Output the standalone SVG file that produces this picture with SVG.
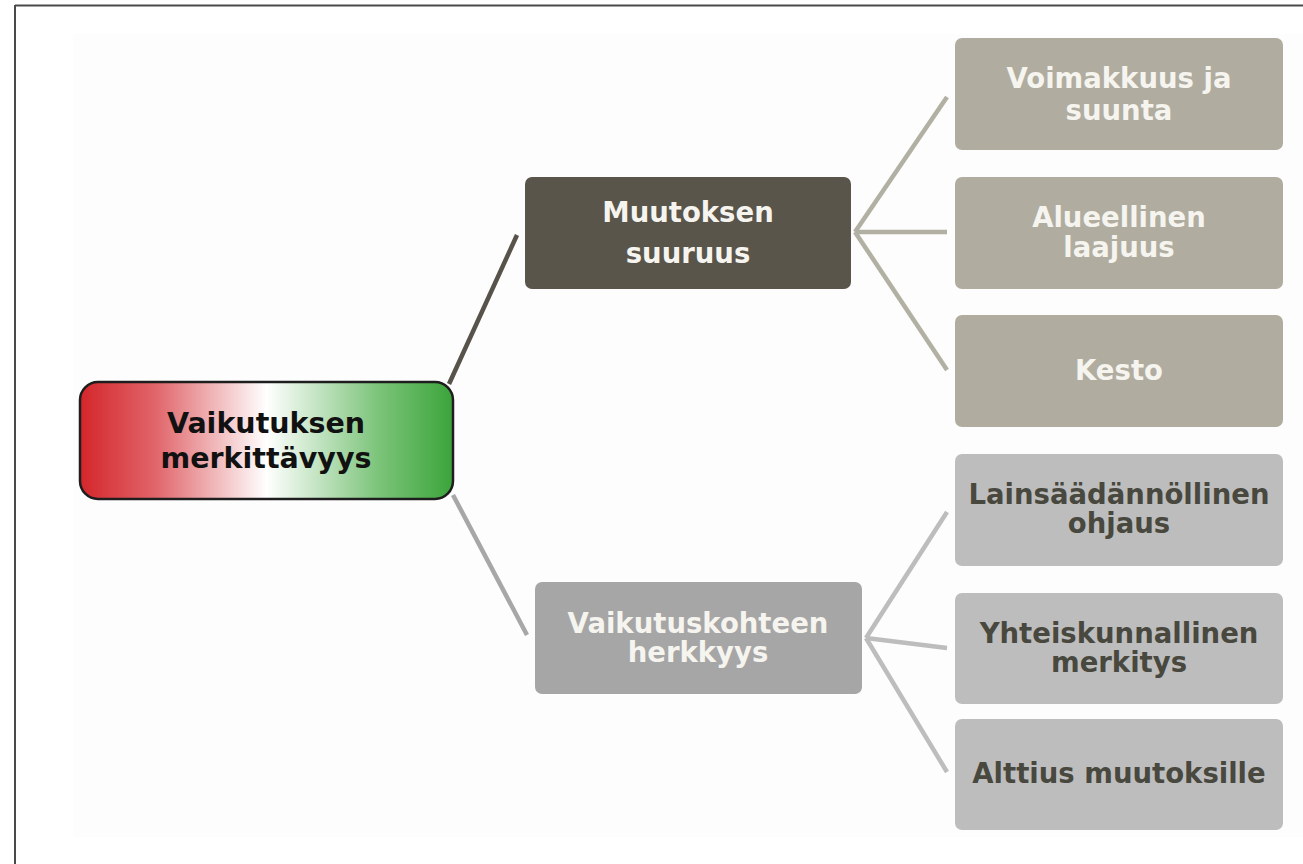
<svg xmlns="http://www.w3.org/2000/svg" width="1303" height="864" viewBox="0 0 1303 864">
<defs>
<linearGradient id="rootGrad" x1="0" y1="0" x2="1" y2="0">
<stop offset="0" stop-color="#d4262b"/>
<stop offset="0.2" stop-color="#e06469"/>
<stop offset="0.5" stop-color="#ffffff"/>
<stop offset="0.8" stop-color="#7cc47a"/>
<stop offset="1" stop-color="#3ba43a"/>
</linearGradient>
<style>
text{font-family:"DejaVu Sans","Verdana",sans-serif;font-weight:bold;text-anchor:middle;font-size:27.5px}
.conn{fill:none;stroke-width:4.5;stroke-linecap:butt}
.c1{stroke:#57534a}
.c2{stroke:#a7a7a7}
.c3{stroke:#b2afa3}
.c4{stroke:#bdbdbd}
.mid{fill:#59554b}
.leafA{fill:#b0ada0}
.leafB{fill:#bdbdbd}
.mid2{fill:#a6a6a6}
.wt{fill:#f6f4ef}
.dt{fill:#48483f}
</style>
</defs>
<rect x="0" y="0" width="1303" height="864" fill="#ffffff"/>
<rect x="73" y="34" width="1230" height="803" fill="#fdfdfd"/>
<g id="frame" fill="none" stroke="#4a4a4a" stroke-width="2">
<line x1="15" y1="5.5" x2="1303" y2="5.5"/>
<line x1="15" y1="5" x2="15" y2="864"/>
</g>
<g id="connectors">
<line class="conn c1" x1="449" y1="384" x2="517" y2="235"/>
<line class="conn c2" x1="453" y1="495" x2="527" y2="635"/>
<line class="conn c3" x1="855" y1="232" x2="947" y2="97"/>
<line class="conn c3" x1="855" y1="232" x2="947" y2="232"/>
<line class="conn c3" x1="855" y1="232" x2="947" y2="370"/>
<line class="conn c4" x1="866" y1="638" x2="947" y2="512"/>
<line class="conn c4" x1="866" y1="638" x2="947" y2="648"/>
<line class="conn c4" x1="866" y1="638" x2="947" y2="772"/>
</g>
<g id="root">
<rect x="80" y="382" width="373" height="117" rx="18" fill="url(#rootGrad)" stroke="#1e1e1e" stroke-width="2.5"/>
<text x="266" y="433" fill="#111111" style="font-size:28.5px">Vaikutuksen</text>
<text x="266" y="468" fill="#111111" style="font-size:28.5px">merkittävyys</text>
</g>
<g id="muutoksen">
<rect x="525" y="177" width="326" height="112" rx="7" class="mid"/>
<text x="688" y="222" class="wt">Muutoksen</text>
<text x="688" y="263" class="wt">suuruus</text>
</g>
<g id="voimakkuus">
<rect x="955" y="38" width="328" height="112" rx="7" class="leafA"/>
<text x="1119" y="88" class="wt">Voimakkuus ja</text>
<text x="1119" y="120" class="wt">suunta</text>
</g>
<g id="alueellinen">
<rect x="955" y="177" width="328" height="112" rx="7" class="leafA"/>
<text x="1119" y="227" class="wt">Alueellinen</text>
<text x="1119" y="257" class="wt">laajuus</text>
</g>
<g id="kesto">
<rect x="955" y="315" width="328" height="112" rx="7" class="leafA"/>
<text x="1119" y="380" class="wt">Kesto</text>
</g>
<g id="vaikutuskohteen">
<rect x="535" y="582" width="327" height="112" rx="7" class="mid2"/>
<text x="698" y="633" class="wt">Vaikutuskohteen</text>
<text x="698" y="662" class="wt">herkkyys</text>
</g>
<g id="lainsaadannollinen">
<rect x="955" y="454" width="328" height="112" rx="7" class="leafB"/>
<text x="1119" y="504" class="dt">Lainsäädännöllinen</text>
<text x="1119" y="533" class="dt">ohjaus</text>
</g>
<g id="yhteiskunnallinen">
<rect x="955" y="593" width="328" height="111" rx="7" class="leafB"/>
<text x="1119" y="643" class="dt">Yhteiskunnallinen</text>
<text x="1119" y="672" class="dt">merkitys</text>
</g>
<g id="alttius">
<rect x="955" y="719" width="328" height="111" rx="7" class="leafB"/>
<text x="1119" y="783" class="dt">Alttius muutoksille</text>
</g>
</svg>
